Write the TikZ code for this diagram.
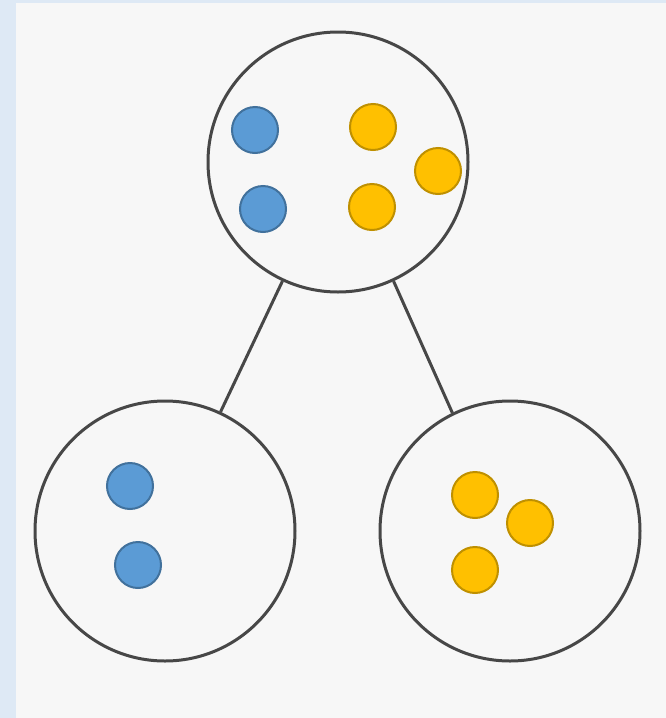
\documentclass[tikz,border=0pt]{standalone}
\usepackage{xcolor}
\definecolor{panelgray}{RGB}{247,247,247}
\definecolor{edgeblue}{RGB}{222,233,245}
\definecolor{dotblue}{RGB}{91,155,213}
\definecolor{dotblueline}{RGB}{65,113,156}
\definecolor{dotgold}{RGB}{255,192,0}
\definecolor{dotgoldline}{RGB}{191,144,0}
\usetikzlibrary{positioning}

\begin{document}
\begin{tikzpicture}[x=1pt, y=-1pt,
  group/.style={circle, draw=black!72, line width=3pt, minimum size=260pt, inner sep=0pt},
  link/.style={draw=black!72, line width=3pt},
  bluedot/.style={circle, fill=dotblue, draw=dotblueline, line width=2pt, minimum size=46pt, inner sep=0pt},
  golddot/.style={circle, fill=dotgold, draw=dotgoldline, line width=2pt, minimum size=46pt, inner sep=0pt}]
  % Panel
  \fill[edgeblue] (0,0) rectangle (666,718);
  \fill[panelgray] (16,3) rectangle (666,718);
  \useasboundingbox (0,0) rectangle (666,718);

  % Groups
  \node[group] (root) at (338,162) {};
  \node[group] (leftgrp) at (165,531) {};
  \node[group] (rightgrp) at (510,531) {};

  % Links
  \draw[link] (root.-115) -- (leftgrp.65);
  \draw[link] (root.-65) -- (rightgrp.116);

  % Root members
  \node[bluedot] (b1) at (255,130) {};
  \node[bluedot] (b2) at (263,209) {};
  \node[golddot] (g1) at (373,127) {};
  \node[golddot] (g2) at (438,171) {};
  \node[golddot] (g3) at (372,207) {};

  % Left members
  \node[bluedot] (b3) at (130,486) {};
  \node[bluedot] (b4) at (138,565) {};

  % Right members
  \node[golddot] (g4) at (475,495) {};
  \node[golddot] (g5) at (530,523) {};
  \node[golddot] (g6) at (475,570) {};
\end{tikzpicture}
\end{document}
